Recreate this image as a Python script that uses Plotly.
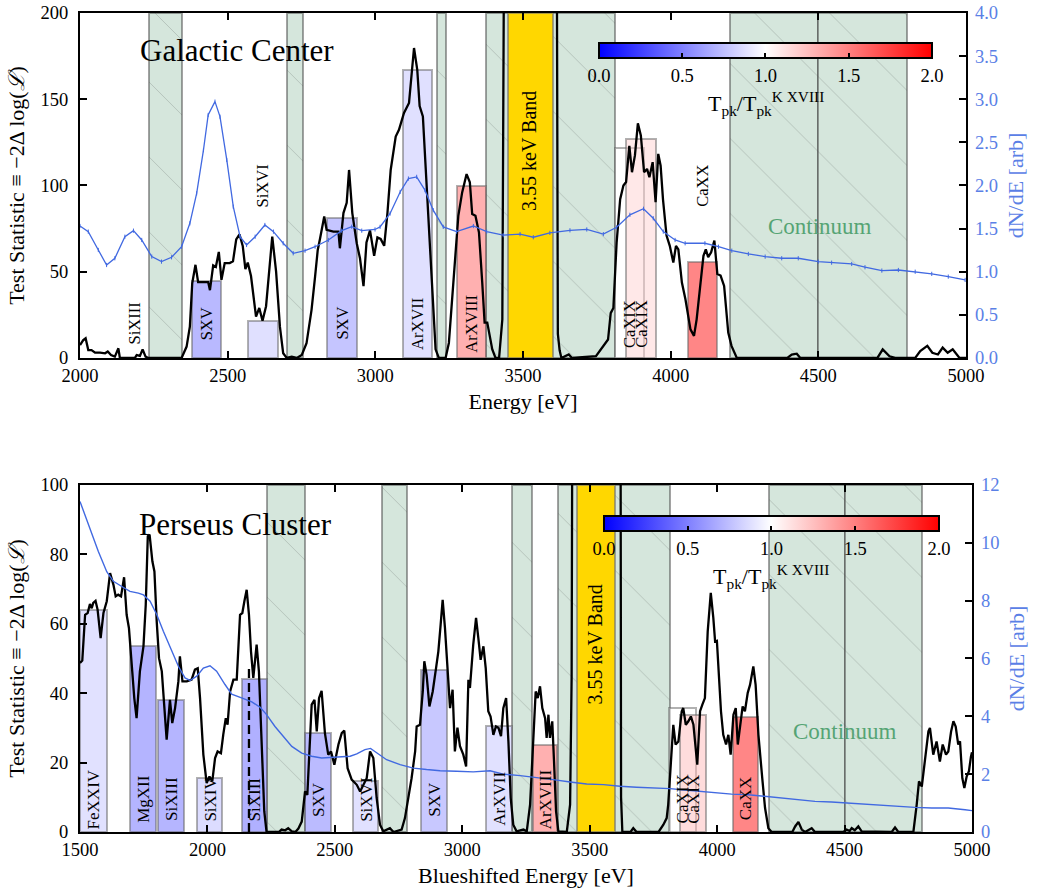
import plotly.graph_objects as go
from plotly.subplots import make_subplots

FONT = "Liberation Serif, Times New Roman, serif"

# ---------------- Galactic Center (top) ----------------
gc_ts_E = [2000, 2011, 2019, 2028, 2039, 2051, 2068, 2085, 2094, 2105, 2118, 2130, 2135, 2186, 2192, 2203,
           2212, 2222, 2231, 2344, 2361, 2372, 2380, 2391, 2400, 2434, 2440, 2451, 2460, 2470, 2479, 2490,
           2507, 2518, 2529, 2540, 2551, 2560, 2568, 2579, 2596, 2607, 2618, 2630, 2651, 2664, 2677, 2688,
           2700, 2717, 2734, 2751, 2767, 2784, 2796, 2805, 2813, 2827, 2835, 2858, 2875, 2880, 2892, 2903,
           2911, 2922, 2937, 2948, 2960, 2970, 2982, 2996, 3007, 3018, 3030, 3041, 3052, 3069, 3080, 3097,
           3114, 3131, 3142, 3150, 3161, 3176, 3193, 3204, 3215, 3238, 3249, 3260, 3281, 3294, 3309, 3320,
           3328, 3339, 3351, 3362, 3370, 3379, 3396, 3407, 3419, 3430, 3440, 3612, 3618, 3624, 3630, 3655,
           3666, 3747, 3765, 3788, 3797, 3806, 3817, 3829, 3840, 3849, 3860, 3869, 3879, 3889, 3899, 3910,
           3920, 3928, 3939, 3949, 3958, 3966, 3974, 3986, 3997, 4009, 4018, 4026, 4038, 4050, 4067, 4079,
           4088, 4102, 4111, 4119, 4127, 4137, 4148, 4158, 4169, 4181, 4195, 4206, 4224, 4395, 4410, 4427,
           4439, 4700, 4718, 4741, 4760, 4828, 4845, 4869, 4886, 4905, 4921, 4938, 4955, 4978, 5000]
gc_ts = [7.5, 10.4, 11.4, 4.6, 4.6, 3.1, 3.1, 2.7, 3.7, 1.7, 0.8, 5.6, 0, 0, 1.7, 1.2,
         5, 0.8, 0, 0, 6.6, 18.2, 43.3, 54, 44, 44, 39.3, 53.7, 52.8, 61.5, 45.3, 55,
         55, 56, 68.8, 71.7, 65, 51.5, 55.3, 47.5, 24, 29, 21.6, 30, 70.4, 50, 18, 2.7,
         0, 0.8, 0, 1.7, 8.5, 27.9, 47.2, 62.6, 69.4, 82, 74.3, 73.3, 73.3, 63.6, 84, 90,
         109, 84, 66.5, 57.8, 41.6, 67, 74, 59.2, 69.9, 69, 65, 84, 109, 128.4, 132.3, 142,
         147.8, 179.7, 167, 146, 140, 92, 34, 5, 0, 0, 8.7, 34, 82.4, 96, 106.6, 101.8,
         83.4, 82.4, 72.7, 43.7, 20.5, 20.5, 5, 0, 0, 22.4, 400, 400, 14, 4.4, 0, 2,
         0, 1, 5, 10.7, 26, 29, 66.8, 92, 100, 102, 123, 107.7, 117.4, 136, 129, 107.7,
         109.6, 104.8, 113.5, 90.3, 118.3, 111.5, 92, 71, 65, 55.3, 65, 63, 43.7, 34, 16.6, 12.8,
         22.4, 43.7, 59.2, 63, 58.4, 61.3, 68, 48.7, 47.8, 41.8, 14.7, 7, 0, 0, 2, 2.5,
         0, 0, 5, 1, 0, 0, 4, 7, 3, 2, 6, 3, 5, 0, 0]

gc_flux_E = [2000, 2028, 2062, 2090, 2118, 2152, 2181, 2209, 2243, 2276, 2310, 2344, 2372, 2395, 2418, 2434,
             2457, 2474, 2497, 2519, 2542, 2564, 2593, 2626, 2655, 2688, 2722, 2762, 2796, 2841, 2886, 2920,
             2954, 2999, 3016, 3050, 3084, 3112, 3140, 3168, 3196, 3230, 3275, 3332, 3377, 3433, 3490, 3535,
             3591, 3659, 3716, 3772, 3817, 3862, 3908, 3941, 3975, 4015, 4049, 4116, 4162, 4207, 4263, 4320,
             4376, 4432, 4500, 4545, 4613, 4658, 4715, 4771, 4828, 4884, 4940, 4997]
gc_flux = [1.53, 1.465, 1.252, 1.078, 1.156, 1.406, 1.476, 1.368, 1.175, 1.117, 1.167, 1.29, 1.561, 1.909, 2.41, 2.817,
           2.972, 2.798, 2.296, 1.754, 1.406, 1.31, 1.406, 1.542, 1.465, 1.33, 1.214, 1.244, 1.29, 1.368, 1.476, 1.522,
           1.476, 1.49, 1.52, 1.675, 1.925, 2.08, 2.1, 1.946, 1.714, 1.52, 1.465, 1.53, 1.465, 1.424, 1.436, 1.40,
           1.45, 1.48, 1.49, 1.436, 1.515, 1.66, 1.73, 1.62, 1.465, 1.368, 1.33, 1.33, 1.29, 1.244, 1.206, 1.175,
           1.156, 1.156, 1.117, 1.105, 1.09, 1.052, 1.013, 1.02, 1.0, 0.975, 0.943, 0.905]

gc_line_names = ["SiXIII", "SXV", "SiXVI", "SXV", "ArXVII", "ArXVIII", "CaXIX", "CaXIX", "CaXX"]
gc_line_lo = [2136, 2380, 2570, 2838, 3092, 3275, 3811, 3850, 4057]
gc_line_hi = [2236, 2479, 2669, 2937, 3193, 3374, 3910, 3951, 4157]
gc_line_ts = [0, 44.5, 21.5, 81, 167, 99.5, 122, 127, 55.5]
gc_line_ratio = [0.5, 0.45, 0.76, 0.55, 0.76, 1.62, 1.0, 1.18, 1.95]

gc_cont_lo = [2235, 2700, 3210, 3375, 4200, 4500]
gc_cont_hi = [2345, 2755, 3240, 3810, 4500, 4800]

# ---------------- Perseus Cluster (bottom) ----------------
per_ts_E = [1500, 1509, 1520, 1530, 1539, 1546, 1552, 1561, 1569, 1581, 1592, 1605, 1618, 1631, 1640, 1650,
            1661, 1673, 1683, 1692, 1705, 1713, 1722, 1735, 1749, 1758, 1766, 1773, 1784, 1792, 1801, 1810,
            1821, 1831, 1840, 1853, 1862, 1873, 1886, 1892, 1902, 1919, 1938, 1951, 1962, 1971, 1984, 1997,
            2008, 2019, 2030, 2040, 2053, 2062, 2072, 2079, 2089, 2102, 2115, 2128, 2137, 2145, 2154, 2163,
            2171, 2180, 2193, 2202, 2213, 2223, 2232, 2280, 2291, 2305, 2317, 2331, 2345, 2357, 2370, 2383,
            2392, 2403, 2409, 2420, 2429, 2438, 2448, 2461, 2474, 2485, 2498, 2514, 2527, 2537, 2550, 2566,
            2586, 2599, 2612, 2625, 2638, 2651, 2664, 2677, 2690, 2716, 2730, 2762, 2775, 2788, 2801, 2815,
            2821, 2834, 2845, 2851, 2860, 2871, 2884, 2897, 2906, 2915, 2923, 2932, 2941, 2952, 2962, 2971,
            2981, 2991, 3004, 3015, 3024, 3030, 3043, 3054, 3063, 3072, 3083, 3092, 3102, 3111, 3122, 3132,
            3142, 3152, 3161, 3172, 3181, 3190, 3200, 3213, 3240, 3253, 3266, 3279, 3288, 3296, 3305, 3314,
            3325, 3331, 3338, 3344, 3353, 3360, 3368, 3377, 3410, 3423, 3429, 3438, 3618, 3623, 3628, 3660,
            3671, 3684, 3770, 3789, 3802, 3808, 3815, 3828, 3837, 3848, 3861, 3867, 3877, 3887, 3897, 3907,
            3922, 3933, 3942, 3952, 3963, 3975, 3985, 3992, 3999, 4007, 4015, 4024, 4035, 4044, 4053, 4064,
            4073, 4081, 4090, 4100, 4109, 4120, 4129, 4142, 4151, 4162, 4177, 4188, 4201, 4214, 4295, 4306,
            4319, 4332, 4345, 4371, 4384, 4495, 4508, 4520, 4528, 4540, 4554, 4567, 4685, 4698, 4711, 4770,
            4783, 4792, 4803, 4816, 4829, 4835, 4848, 4861, 4874, 4885, 4898, 4907, 4918, 4927, 4936, 4946,
            4953, 4962, 4970, 4979, 4988, 4996, 5000]
per_ts = [48.7, 49.4, 62.6, 63.1, 65.7, 64.5, 66, 66.6, 64.1, 55.9, 63.1, 66.5, 74.6, 71.3, 67.9, 68.4,
          67.9, 73.4, 62.6, 58.8, 46.3, 38.6, 32.8, 46.3, 53.5, 65.5, 85.2, 85.7, 78, 75.1, 60.7, 50.1,
          46.3, 34.8, 26.6, 38.1, 31.4, 35.7, 43.4, 50.6, 43.4, 43.4, 43.9, 46.8, 47.2, 38.6, 22.3, 14.1,
          16, 14.6, 21.3, 23.2, 22.7, 28, 32.8, 30.9, 40.5, 43.9, 43.9, 62.6, 63.1, 66.5, 69.8, 62.6,
          52, 44.4, 54, 46.3, 25.2, 6, 0, 0, 0.7, 0.5, 1.1, 0.2, 0, 1, 3, 11.7,
          10.7, 29, 36.7, 38.1, 29, 38.6, 40.7, 28.5, 22.3, 23.2, 19.4, 25.2, 28.5, 29.2, 18.4, 15.1,
          13.6, 11.7, 13.6, 15.5, 23.2, 21.3, 9.8, 2.1, 0.2, 1.1, 0, 0.7, 4, 9.8, 15.5, 23.2,
          30.4, 30.9, 40.5, 49.2, 45.3, 36.2, 40.5, 47.2, 52, 59.7, 66.9, 58.8, 48.7, 35.7, 41, 23.2,
          30.1, 24.7, 22.3, 18.9, 43.9, 41.5, 54, 61.7, 55.9, 49.6, 53.5, 47.2, 34.8, 33.3, 28, 30.4,
          30, 27.6, 35.7, 38.6, 26.1, 9.8, 2.1, 0.2, 0.7, 0.2, 7.9, 29, 40.5, 38.6, 42, 35.7,
          32.8, 27.1, 33.8, 27.1, 31.9, 20.3, 5.9, 0.2, 0, 7.9, 44.4, 300, 300, 10, 0, 0,
          1.1, 0, 0, 2.1, 4, 7.9, 15.5, 30.9, 25.2, 26.1, 34.8, 35.7, 30.9, 31.9, 33.3, 30.9,
          19.4, 34.8, 36.7, 38.6, 57.8, 68.9, 61.7, 54.9, 55.1, 45.3, 34.8, 28, 25.2, 28, 22.3, 33.8,
          35.7, 25.2, 30.9, 36.2, 34.8, 40.1, 42.4, 47.7, 42.4, 28, 15.5, 6.9, 1.1, 0, 0, 1.6,
          2.9, 0.7, 0, 1.1, 0, 0, 0.7, 0.3, 1.1, 0.5, 1.6, 0.2, 0, 1.3, 0, 0,
          7.9, 14.6, 13.1, 20.3, 29, 30, 22.3, 26.1, 20.3, 25.2, 22.3, 23.2, 29, 31.9, 30.4, 25.2,
          26.1, 15.5, 12.7, 16, 17.5, 21.8, 23]

per_flux_E = [1500, 1533, 1572, 1605, 1631, 1664, 1696, 1729, 1749, 1775, 1801, 1827, 1860, 1886, 1912, 1932,
              1958, 1984, 2010, 2036, 2069, 2095, 2134, 2174, 2206, 2232, 2265, 2298, 2331, 2370, 2409, 2448,
              2487, 2527, 2560, 2586, 2618, 2640, 2664, 2703, 2756, 2808, 2860, 2913, 2978, 3043, 3109, 3161,
              3227, 3292, 3357, 3423, 3488, 3554, 3619, 3684, 3750, 3815, 3861, 3926, 3992, 4057, 4122, 4188,
              4253, 4319, 4384, 4449, 4515, 4580, 4646, 4711, 4776, 4842, 4907, 4973, 5000]
per_flux = [11.43, 10.63, 9.70, 9.0, 8.67, 8.49, 8.32, 8.26, 8.20, 7.98, 7.52, 6.94, 6.25, 5.73, 5.33, 5.24,
            5.39, 5.67, 5.75, 5.56, 5.10, 4.77, 4.64, 4.50, 4.32, 4.06, 3.65, 3.31, 2.96, 2.73, 2.62, 2.56,
            2.58, 2.58, 2.62, 2.70, 2.85, 2.89, 2.73, 2.50, 2.33, 2.21, 2.16, 2.12, 2.10, 2.08, 2.12, 2.0,
            1.95, 1.89, 1.81, 1.73, 1.66, 1.64, 1.58, 1.55, 1.53, 1.50, 1.46, 1.41, 1.35, 1.31, 1.29, 1.23,
            1.18, 1.12, 1.06, 1.04, 1.0, 0.97, 0.92, 0.89, 0.85, 0.83, 0.83, 0.77, 0.74]

per_line_names = ["FeXXIV", "MgXII", "SiXIII", "SiXIV", "SiXIII", "SXV", "SiXVI", "SXV", "ArXVII",
                  "ArXVIII", "CaXIX", "CaXIX", "CaXX"]
per_line_lo = [1500, 1696, 1805, 1958, 2134, 2383, 2572, 2837, 3092, 3279, 3811, 3854, 4061]
per_line_hi = [1605, 1797, 1908, 2059, 2235, 2484, 2671, 2939, 3194, 3373, 3916, 3955, 4159]
per_line_ts = [64.1, 53.5, 38.1, 15.7, 44.1, 28.5, 14.8, 46.8, 30.5, 25.2, 35.7, 33.6, 33.1]
per_line_ratio = [0.77, 0.41, 0.42, 0.73, 0.38, 0.47, 0.77, 0.57, 0.77, 1.62, 1.0, 1.27, 1.95]

per_cont_lo = [2232, 2684, 3194, 3377, 4203, 4502]
per_cont_hi = [2382, 2782, 3275, 3815, 4502, 4802]

per_dash_E = [2163, 2163]
per_dash_ts = [0, 47]

band_lo, band_hi = 3450, 3600
cbar_ticks = [0.0, 0.5, 1.0, 1.5, 2.0]

# ---------------- styling ----------------
BLUE = "#4169e1"
BLUE_LBL = "#5a80e6"
GREEN_FILL = "#d5e6dc"
CONT_TXT = "#55a474"
BWR = [[0.0, "rgb(0,0,255)"], [0.5, "rgb(255,255,255)"], [1.0, "rgb(255,0,0)"]]


def bwr_rgba(ratio, alpha=0.5):
    t = min(max(ratio / 2.0, 0.0), 1.0)
    if t < 0.5:
        r = g = 2 * t
        b = 1.0
    else:
        r = 1.0
        g = b = 2 - 2 * t
    return f"rgba({r*255:.0f},{g*255:.0f},{b*255:.0f},{alpha})"


fig = make_subplots(rows=2, cols=1, specs=[[{"secondary_y": True}], [{"secondary_y": True}]])

panels = [
    dict(row=1, xr="x", yr="y", ymax=200, ts_E=gc_ts_E, ts=gc_ts, fl_E=gc_flux_E, fl=gc_flux,
         names=gc_line_names, lo=gc_line_lo, hi=gc_line_hi, lts=gc_line_ts, ratio=gc_line_ratio,
         clo=gc_cont_lo, chi=gc_cont_hi, lbl_y=20, raised={"SiXVI": 100, "CaXX": 100}, lbl_size=16.5,
         band_txt_y=120, title="Galactic Center", title_xy=(2530, 178), cont_xy=(4506, 76),
         markers=True, cb=dict(x=0.5818, len=0.3733, y=0.9634), cbt=(0.769, 0.890)),
    dict(row=2, xr="x2", yr="y3", ymax=100, ts_E=per_ts_E, ts=per_ts, fl_E=per_flux_E, fl=per_flux,
         names=per_line_names, lo=per_line_lo, hi=per_line_hi, lts=per_line_ts, ratio=per_line_ratio,
         clo=per_cont_lo, chi=per_cont_hi, lbl_y=9.5, raised={}, lbl_size=17,
         band_txt_y=54, title="Perseus Cluster", title_xy=(2110, 88.5), cont_xy=(4502, 29),
         markers=False, cb=dict(x=0.5874, len=0.3756, y=0.3858), cbt=(0.7747, 0.3114)),
]

annotations = []
for p in panels:
    r = p["row"]
    ymax = p["ymax"]
    # continuum bands (hatched)
    fig.add_trace(go.Bar(
        x=[(a + b) / 2 for a, b in zip(p["clo"], p["chi"])],
        y=[ymax] * len(p["clo"]),
        width=[b - a for a, b in zip(p["clo"], p["chi"])],
        marker=dict(color=GREEN_FILL,
                    line=dict(color="rgba(70,70,70,0.5)", width=2),
                    pattern=dict(shape="\\", fillmode="replace", bgcolor=GREEN_FILL,
                                 fgcolor="rgba(120,130,125,0.55)", size=53, solidity=0.012)),
        hoverinfo="skip", showlegend=False), row=r, col=1)
    # 3.55 keV band
    fig.add_trace(go.Bar(
        x=[(band_lo + band_hi) / 2], y=[ymax], width=[band_hi - band_lo],
        marker=dict(color="#ffd700", line=dict(color="rgba(110,110,110,0.6)", width=2)),
        hoverinfo="skip", showlegend=False), row=r, col=1)
    # line bars
    idx = [i for i, v in enumerate(p["lts"]) if v > 0]
    fig.add_trace(go.Bar(
        x=[(p["lo"][i] + p["hi"][i]) / 2 for i in idx],
        y=[p["lts"][i] for i in idx],
        width=[p["hi"][i] - p["lo"][i] for i in idx],
        marker=dict(color=[bwr_rgba(p["ratio"][i]) for i in idx],
                    line=dict(color="rgba(100,100,100,0.5)", width=2)),
        hoverinfo="skip", showlegend=False), row=r, col=1)
    # TS curve
    fig.add_trace(go.Scatter(x=p["ts_E"], y=p["ts"], mode="lines",
                             line=dict(color="black", width=2.3), hoverinfo="skip", showlegend=False),
                  row=r, col=1)
    if r == 2:
        fig.add_trace(go.Scatter(x=per_dash_E, y=per_dash_ts, mode="lines",
                                 line=dict(color="black", width=2.3, dash="9px,5px"),
                                 hoverinfo="skip", showlegend=False), row=r, col=1)
    # flux curve
    if p["markers"]:
        fig.add_trace(go.Scatter(x=p["fl_E"], y=p["fl"], mode="lines+markers",
                                 line=dict(color=BLUE, width=1.3),
                                 marker=dict(symbol="line-ns-open", size=3, color=BLUE,
                                             line=dict(color=BLUE, width=1)),
                                 hoverinfo="skip", showlegend=False), row=r, col=1, secondary_y=True)
    else:
        fig.add_trace(go.Scatter(x=p["fl_E"], y=p["fl"], mode="lines",
                                 line=dict(color=BLUE, width=1.4),
                                 hoverinfo="skip", showlegend=False), row=r, col=1, secondary_y=True)
    # colorbar
    fig.add_trace(go.Scatter(
        x=[None, None], y=[None, None], mode="markers",
        marker=dict(color=[cbar_ticks[0], cbar_ticks[-1]], cmin=cbar_ticks[0], cmax=cbar_ticks[-1],
                    colorscale=BWR, showscale=True,
                    colorbar=dict(orientation="h", x=p["cb"]["x"], xanchor="left", len=p["cb"]["len"],
                                  lenmode="fraction", y=p["cb"]["y"], yanchor="top", thickness=15,
                                  thicknessmode="pixels", xpad=0, ypad=0,
                                  outlinewidth=2, outlinecolor="black",
                                  tickvals=cbar_ticks, ticktext=[f"{t:.1f}" for t in cbar_ticks],
                                  ticks="inside", ticklen=6, tickwidth=1.5, tickcolor="black",
                                  tickfont=dict(size=18.5, family=FONT, color="black"))),
        hoverinfo="skip", showlegend=False), row=r, col=1)
    annotations.append(dict(xref="paper", yref="paper", x=p["cbt"][0], y=p["cbt"][1],
                            text="T<sub>pk</sub>/T<sub>pk</sub><sup>K XVIII</sup>", showarrow=False,
                            font=dict(size=22, family=FONT, color="black"), xanchor="center",
                            yanchor="middle"))
    # line labels
    for i, nm in enumerate(p["names"]):
        annotations.append(dict(xref=p["xr"], yref=p["yr"], x=(p["lo"][i] + p["hi"][i]) / 2,
                                y=p["raised"].get(nm, p["lbl_y"]), text=nm, textangle=-90,
                                showarrow=False, font=dict(size=p["lbl_size"], family=FONT, color="black"),
                                xanchor="center", yanchor="middle"))
    annotations.append(dict(xref=p["xr"], yref=p["yr"], x=(band_lo + band_hi) / 2 - 5, y=p["band_txt_y"],
                            text="3.55 keV Band", textangle=-90, showarrow=False,
                            font=dict(size=20, family=FONT, color="black")))
    annotations.append(dict(xref=p["xr"], yref=p["yr"], x=p["title_xy"][0], y=p["title_xy"][1],
                            text=p["title"], showarrow=False,
                            font=dict(size=31, family=FONT, color="black")))
    annotations.append(dict(xref=p["xr"], yref=p["yr"], x=p["cont_xy"][0], y=p["cont_xy"][1],
                            text="Continuum", showarrow=False,
                            font=dict(size=23, family=FONT, color=CONT_TXT)))

ax = dict(showline=True, linewidth=2, linecolor="black", ticks="inside", ticklen=7, tickwidth=1.5,
          tickcolor="black", showgrid=False, zeroline=False, automargin=False,
          tickfont=dict(size=18.5, family=FONT, color="black"))
ttl = dict(size=22, family=FONT, color="black")
ttl_b = dict(size=22, family=FONT, color=BLUE_LBL)

fig.update_layout(
    width=1038, height=893, margin=dict(l=80, r=66, t=13, b=61, pad=0),
    plot_bgcolor="white", paper_bgcolor="white", barmode="overlay", showlegend=False,
    font=dict(family=FONT, size=18, color="black"), bargap=0,
    xaxis=dict(ax, range=[2000, 5000], tick0=2000, dtick=500, mirror="ticks", domain=[0, 0.99327],
               title=dict(text="Energy [eV]", font=ttl, standoff=8)),
    yaxis=dict(ax, range=[0, 200], dtick=50, mirror=True, domain=[0.5788, 1.0], ticklabelstandoff=6,
               title=dict(text="Test Statistic ≡ −2Δ log(<i>ℒ</i>)", font=ttl, standoff=10)),
    yaxis2=dict(ax, range=[0, 4], dtick=0.5, tickformat=".1f", showline=False, ticklabelstandoff=8,
                tickfont=dict(size=18.5, family=FONT, color=BLUE_LBL),
                title=dict(text="dN/dE [arb]", font=ttl_b, standoff=10)),
    xaxis2=dict(ax, range=[1500, 5000], tick0=1500, dtick=500, mirror="ticks", domain=[0, 1.0],
                title=dict(text="Blueshifted Energy [eV]", font=ttl, standoff=8)),
    yaxis3=dict(ax, range=[0, 100], dtick=20, mirror=True, domain=[0.0, 0.4237], ticklabelstandoff=6,
                title=dict(text="Test Statistic ≡ −2Δ log(<i>ℒ</i>)", font=ttl, standoff=10)),
    yaxis4=dict(ax, range=[0, 12], dtick=2, showline=False, ticklabelstandoff=8,
                tickfont=dict(size=18.5, family=FONT, color=BLUE_LBL),
                title=dict(text="dN/dE [arb]", font=ttl_b, standoff=10)),
    annotations=annotations,
)

fig.write_html("out.html")
